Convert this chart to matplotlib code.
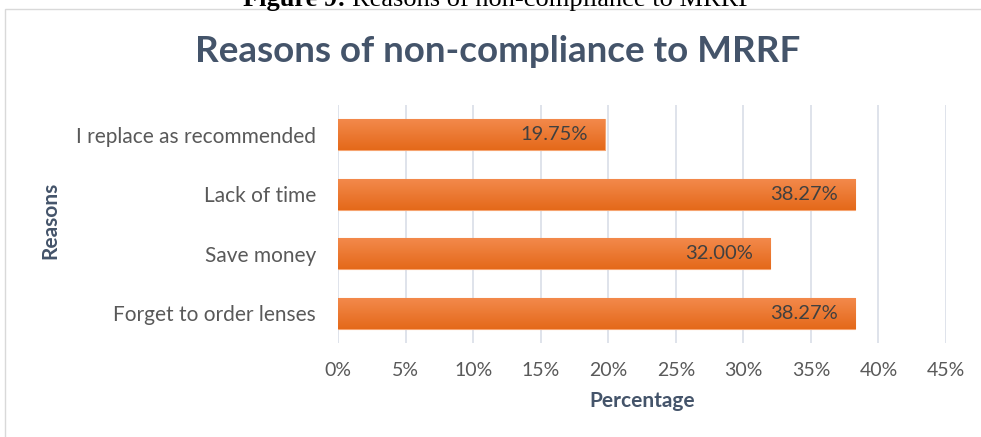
import matplotlib
matplotlib.use("Agg")
import matplotlib.pyplot as plt
import numpy as np
from matplotlib.patches import Rectangle
from matplotlib.colors import LinearSegmentedColormap

categories = ["Forget to order lenses", "Save money", "Lack of time", "I replace as recommended"]
values = [38.27, 32.00, 38.27, 19.75]
labels = ["38.27%", "32.00%", "38.27%", "19.75%"]
xticks = [0, 5, 10, 15, 20, 25, 30, 35, 40, 45]

FONT = ["Lato", "DejaVu Sans"]
W, H = 981, 437
fig = plt.figure(figsize=(W / 100, H / 100), dpi=100)

# chart border
fig.patches.append(Rectangle((5 / W, -0.1), 1.2, 1.1 - 9 / H, transform=fig.transFigure,
                             fill=False, edgecolor="#D9D9D9", linewidth=1))

# cut-off caption (as in reference)
cap_y = 1 - 6 / H
t1 = fig.text(0, cap_y, "Figure 9: ", ha="left", va="baseline", fontsize=19,
              family="Liberation Serif", fontweight="bold", color="black")
t2 = fig.text(0, cap_y, "Reasons of non-compliance to MRRF", ha="left", va="baseline",
              fontsize=19, family="Liberation Serif", color="black")
fig.canvas.draw()
r = fig.canvas.get_renderer()
w1 = t1.get_window_extent(r).width
w2 = t2.get_window_extent(r).width
x_start = 498 - (w1 + w2) / 2
t1.set_x(x_start / W)
t2.set_x((x_start + w1) / W)

ax = fig.add_axes([338 / W, 1 - 343 / H, (946 - 338) / W, (343 - 105) / H])
y = np.arange(len(categories))
bars = ax.barh(y, values, height=0.52, color="#EE7A2E", edgecolor="#F6A470", linewidth=0.8, zorder=3)

grad = np.linspace(0, 1, 64).reshape(-1, 1)
cmap = LinearSegmentedColormap.from_list("g", ["#F3894B", "#E4691A"])
for b in bars:
    x0, y0 = b.get_x(), b.get_y()
    w, h = b.get_width(), b.get_height()
    im = ax.imshow(grad, extent=[x0, x0 + w, y0, y0 + h], aspect="auto", cmap=cmap,
                   zorder=3.5, origin="upper")
    im.set_clip_path(b)

for yi, v, lab in zip(y, values, labels):
    ax.text(v - 1.25, yi, lab, ha="right", va="center", fontsize=14.5, color="#404040",
            family=FONT, zorder=5)

ax.set_xlim(0, 45)
ax.set_ylim(-0.5, len(categories) - 0.5)
ax.set_xticks(xticks)
ax.set_xticklabels([f"{t}%" for t in xticks], family=FONT, fontsize=14, color="#595959")
ax.set_yticks(y)
ax.set_yticklabels(categories, family=FONT, fontsize=15, color="#595959")
ax.tick_params(axis="x", length=0, pad=14)
ax.tick_params(axis="y", length=0, pad=16)
ax.grid(axis="x", color="#D9DEE7", linewidth=1.2, zorder=0)
for s in ax.spines.values():
    s.set_visible(False)

ax.set_xlabel("Percentage", family=FONT, fontsize=15, fontweight="bold", color="#44546A", labelpad=8)
fig.text(50 / W, 1 - 220 / H, "Reasons", rotation=90, ha="center", va="center",
         family=FONT, fontsize=15, fontweight="bold", color="#44546A")

fig.text(498 / W, 1 - 52 / H, "Reasons of non-compliance to MRRF", ha="center", va="center",
         family=FONT, fontsize=26.5, fontweight="bold", color="#44546A")

fig.savefig("out.png", dpi=100)
